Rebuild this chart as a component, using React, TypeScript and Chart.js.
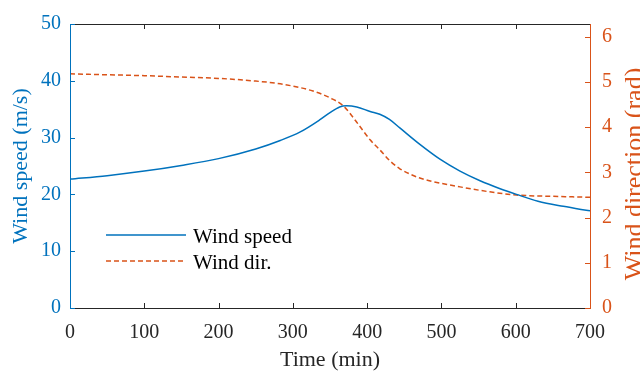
import React, { useEffect, useRef } from "react";
import { Chart, registerables } from "chart.js";

Chart.register(...registerables);

const speedTimes = [0, 50, 100, 150, 200, 250, 283, 310, 336, 350, 363, 372, 386, 404, 417, 430, 444, 471, 498, 525, 552, 579, 601, 630, 664, 700];
const speedValues = [22.7, 23.3, 24.1, 25.1, 26.3, 28.0, 29.5, 31.0, 33.1, 34.4, 35.4, 35.6, 35.4, 34.6, 34.1, 33.2, 31.7, 28.8, 26.2, 24.1, 22.4, 21.0, 20.0, 18.8, 17.9, 17.1];

const dirTimes = [0, 50, 100, 150, 200, 250, 283, 327, 350, 368, 386, 404, 417, 431, 444, 458, 470, 485, 525, 565, 601, 650, 700];
const dirValues = [5.18, 5.16, 5.14, 5.11, 5.08, 5.02, 4.96, 4.8, 4.65, 4.47, 4.11, 3.72, 3.5, 3.25, 3.08, 2.96, 2.88, 2.81, 2.68, 2.57, 2.5, 2.47, 2.45];

const seriesLabels = ["Wind speed", "Wind dir."];
const xTitle = "Time (min)";
const leftTitle = "Wind speed (m/s)";
const rightTitle = "Wind direction (rad)";

const BLUE = "#0072BD";
const ORANGE = "#D95319";
const AXIS = "#262626";
const FONT = "'Liberation Serif', 'Times New Roman', serif";

const axesPlugin = {
  id: "matlabAxes",
  afterDatasetsDraw(chart: any) {
    const { ctx, chartArea, scales } = chart;
    const { left, right, top, bottom } = chartArea;
    const tl = 5;
    ctx.save();
    ctx.lineWidth = 1;
    ctx.strokeStyle = AXIS;
    ctx.beginPath();
    ctx.moveTo(left, bottom + 0.5);
    ctx.lineTo(right, bottom + 0.5);
    ctx.moveTo(left, top + 0.5);
    ctx.lineTo(right, top + 0.5);
    scales.x.ticks.forEach((t: any) => {
      const px = Math.round(scales.x.getPixelForValue(t.value)) + 0.5;
      ctx.moveTo(px, bottom);
      ctx.lineTo(px, bottom - tl);
      ctx.moveTo(px, top);
      ctx.lineTo(px, top + tl);
    });
    ctx.stroke();
    ctx.strokeStyle = BLUE;
    ctx.beginPath();
    ctx.moveTo(left + 0.5, top);
    ctx.lineTo(left + 0.5, bottom + 1);
    scales.y.ticks.forEach((t: any) => {
      const py = Math.round(scales.y.getPixelForValue(t.value)) + 0.5;
      ctx.moveTo(left, py);
      ctx.lineTo(left + tl, py);
    });
    ctx.stroke();
    ctx.strokeStyle = ORANGE;
    ctx.beginPath();
    ctx.moveTo(right + 0.5, top);
    ctx.lineTo(right + 0.5, bottom + 1);
    scales.y2.ticks.forEach((t: any) => {
      const py = Math.round(scales.y2.getPixelForValue(t.value)) + 0.5;
      ctx.moveTo(right, py);
      ctx.lineTo(right - tl, py);
    });
    ctx.stroke();

    const ds = chart.data.datasets;
    const lx0 = left + 36;
    const rows = [235, 261];
    ds.forEach((d: any, i: number) => {
      const y = rows[i];
      ctx.save();
      ctx.strokeStyle = d.borderColor;
      ctx.lineWidth = 1.5;
      ctx.setLineDash(d.borderDash || []);
      ctx.beginPath();
      ctx.moveTo(lx0, y);
      ctx.lineTo(lx0 + 80, y);
      ctx.stroke();
      ctx.restore();
      ctx.fillStyle = "#000";
      ctx.font = `21px ${FONT}`;
      ctx.textAlign = "left";
      ctx.textBaseline = "alphabetic";
      ctx.fillText(d.label, lx0 + 87, y + 8);
    });

    ctx.save();
    ctx.translate(642, 174);
    ctx.rotate(-Math.PI / 2);
    ctx.fillStyle = ORANGE;
    ctx.font = `26px ${FONT}`;
    ctx.textAlign = "center";
    ctx.textBaseline = "alphabetic";
    ctx.fillText(rightTitle, 0, 0);
    ctx.restore();
    ctx.restore();
  },
};

export default function App() {
  const ref = useRef<HTMLCanvasElement | null>(null);
  useEffect(() => {
    if (!ref.current) return;
    const chart = new Chart(ref.current, {
      type: "line",
      data: {
        datasets: [
          {
            label: seriesLabels[0],
            data: speedTimes.map((t, i) => ({ x: t, y: speedValues[i] })),
            borderColor: BLUE,
            borderWidth: 1.5,
            pointRadius: 0,
            cubicInterpolationMode: "monotone",
            yAxisID: "y",
            fill: false,
          },
          {
            label: seriesLabels[1],
            data: dirTimes.map((t, i) => ({ x: t, y: dirValues[i] })),
            borderColor: ORANGE,
            borderWidth: 1.5,
            borderDash: [5, 3],
            pointRadius: 0,
            cubicInterpolationMode: "monotone",
            yAxisID: "y2",
            fill: false,
          },
        ],
      },
      options: {
        responsive: false,
        devicePixelRatio: 1,
        animation: false,
        layout: { padding: { top: 15, left: 0, right: 0, bottom: 0 } },
        plugins: { legend: { display: false }, tooltip: { enabled: false } },
        scales: {
          x: {
            type: "linear",
            min: 0,
            max: 700,
            grid: { display: false, drawTicks: false },
            border: { display: false },
            ticks: {
              stepSize: 100,
              padding: 13,
              color: AXIS,
              font: { family: FONT, size: 20 },
              maxRotation: 0,
            },
            title: {
              display: true,
              text: xTitle,
              color: AXIS,
              font: { family: FONT, size: 22 },
              padding: { top: 0, bottom: 0 },
            },
            afterFit: (s: any) => {
              s.height = 65;
            },
          },
          y: {
            type: "linear",
            position: "left",
            min: 0,
            max: 50,
            grid: { display: false, drawTicks: false },
            border: { display: false },
            ticks: {
              stepSize: 10,
              padding: 9,
              color: BLUE,
              font: { family: FONT, size: 20 },
            },
            title: {
              display: true,
              text: leftTitle,
              color: BLUE,
              font: { family: FONT, size: 22 },
              padding: { top: 8, bottom: 0 },
            },
            afterFit: (s: any) => {
              s.width = 70;
            },
          },
          y2: {
            type: "linear",
            position: "right",
            min: 0,
            max: 2 * Math.PI,
            grid: { display: false, drawTicks: false },
            border: { display: false },
            ticks: {
              stepSize: 1,
              includeBounds: false,
              padding: 12,
              color: ORANGE,
              font: { family: FONT, size: 20 },
            },
            afterFit: (s: any) => {
              s.width = 50;
            },
          },
        },
      } as any,
      plugins: [axesPlugin],
    });
    return () => chart.destroy();
  }, []);
  return (
    <div style={{ position: "fixed", left: 0, top: 0, width: 640, height: 373, background: "#fff" }}>
      <canvas ref={ref} width={640} height={373} style={{ display: "block" }} />
    </div>
  );
}
